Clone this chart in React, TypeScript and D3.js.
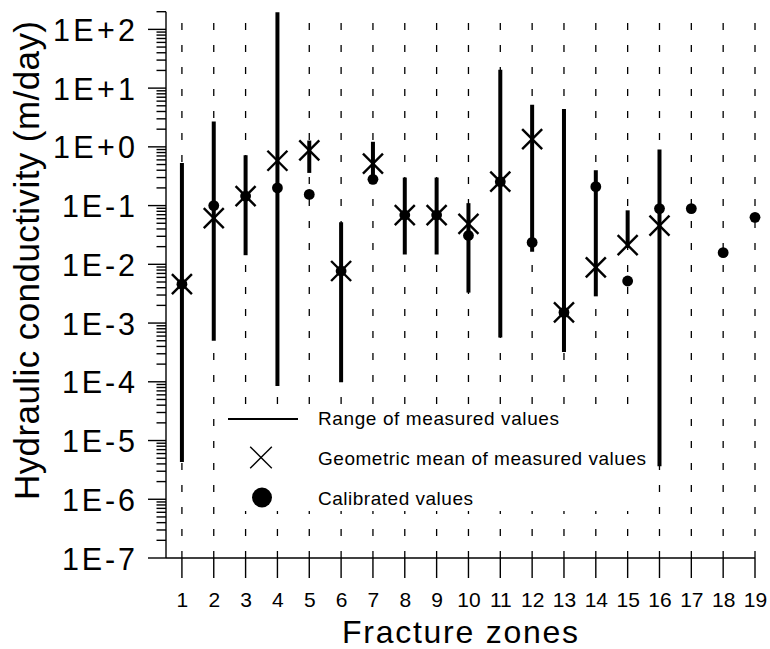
import React from "react";
import * as d3 from "d3";

// fracture zone labels on the x axis
const zones = ["1", "2", "3", "4", "5", "6", "7", "8", "9", "10", "11", "12", "13", "14", "15", "16", "17", "18", "19"];

// range of measured values (m/day), null where no measurements
const rangeLow = [4.3e-6, 5.0e-4, 0.0143, 8.5e-5, 0.36, 9.8e-5, 0.3, 0.0147, 0.0147, 0.0033, 5.7e-4, 0.0164, 3.2e-4, 2.85e-3, 0.019, 3.66e-6, null, null, null];
const rangeHigh = [0.53, 2.7, 0.72, 196, 1.28, 0.052, 1.22, 0.30, 0.30, 0.11, 20.5, 5.2, 4.4, 0.40, 0.083, 0.90, null, null, null];

// geometric mean of measured values
const geoMean = [4.6e-3, 0.061, 0.145, 0.58, 0.87, 0.0077, 0.52, 0.069, 0.069, 0.049, 0.255, 1.35, 1.52e-3, 8.9e-3, 0.0212, 0.0455, null, null, null];

// calibrated values
const calibrated = [4.6e-3, 0.100, 0.145, 0.20, 0.155, 0.0077, 0.28, 0.069, 0.069, 0.031, 0.255, 0.0236, 1.52e-3, 0.21, 5.2e-3, 0.089, 0.089, 0.0158, 0.063];

const yTickLabels = ["1E-7", "1E-6", "1E-5", "1E-4", "1E-3", "1E-2", "1E-1", "1E+0", "1E+1", "1E+2"];

const legendItems = ["Range of measured values", "Geometric mean of measured values", "Calibrated values"];

const FONT = "'Liberation Sans', Arial, Helvetica, sans-serif";

export default function App() {
  const width = 770;
  const height = 649;
  const left = 166;
  const right = 755;
  const bottom = 558;
  const top = 11.7;

  const x = d3.scaleLinear([-0.5, zones.length - 1], [left, right]);
  const y = d3.scaleLog([1e-7, 2e2], [bottom, top]);

  const ticks = y.ticks();
  const isMajor = (t: number) => Math.abs(Math.log10(t) - Math.round(Math.log10(t))) < 1e-9;

  const cross = (cx: number, cy: number, h: number, sw: number, key?: string) => (
    <g key={key} stroke="#000" strokeWidth={sw}>
      <line x1={cx - h} y1={cy - h} x2={cx + h} y2={cy + h} />
      <line x1={cx - h} y1={cy + h} x2={cx + h} y2={cy - h} />
    </g>
  );

  return (
    <svg width={width} height={height} style={{ position: "absolute", left: 0, top: 0, background: "#fff" }} fontFamily={FONT}>
      {/* dashed zone guides */}
      <g stroke="#000" strokeWidth={1.3} strokeDasharray="7 15">
        {zones.map((z, i) => (
          <line key={z} x1={x(i)} x2={x(i)} y1={23} y2={bottom} />
        ))}
      </g>

      {/* legend box hides the guides behind it */}
      <rect x={222} y={406} width={428} height={105} fill="#fff" />

      {/* axes */}
      <g stroke="#000" strokeWidth={1.4}>
        <line x1={left} x2={left} y1={y(2e2)} y2={bottom} />
        <line x1={left} x2={right} y1={bottom} y2={bottom} />
        {ticks.map((t, i) => (
          <line key={i} x1={left - (isMajor(t) ? 18 : 9.5)} x2={left} y1={y(t)} y2={y(t)} />
        ))}
        {zones.map((z, i) => (
          <line key={z} x1={x(i)} x2={x(i)} y1={bottom} y2={bottom + 20} />
        ))}
      </g>

      {/* y tick labels */}
      <g fontSize={30.5} textAnchor="end">
        {yTickLabels.map((lab, i) => (
          <text key={lab} x={135} y={y(Math.pow(10, i - 7)) + 11.5} textLength={lab.includes("+") ? 82 : 73} lengthAdjust="spacing">
            {lab}
          </text>
        ))}
      </g>

      {/* x tick labels */}
      <g fontSize={21} textAnchor="middle">
        {zones.map((z, i) => (
          <text key={z} x={x(i) + 0.5} y={607}>{z}</text>
        ))}
      </g>

      {/* axis titles */}
      <text transform="translate(38.5,260.5) rotate(-90)" fontSize={35} textAnchor="middle" textLength={479} lengthAdjust="spacing">
        Hydraulic conductivity (m/day)
      </text>
      <text x={460} y={643} fontSize={32} textAnchor="middle" textLength={236} lengthAdjust="spacing">
        Fracture zones
      </text>

      {/* range bars */}
      <g stroke="#000" strokeWidth={4}>
        {zones.map((z, i) =>
          rangeLow[i] != null && rangeHigh[i] != null ? (
            <line key={z} x1={x(i)} x2={x(i)} y1={y(rangeHigh[i] as number)} y2={y(rangeLow[i] as number)} />
          ) : null
        )}
      </g>

      {/* calibrated values */}
      <g fill="#000">
        {zones.map((z, i) =>
          calibrated[i] != null ? <circle key={z} cx={x(i)} cy={y(calibrated[i] as number)} r={5.4} /> : null
        )}
      </g>

      {/* geometric means */}
      <g>
        {zones.map((z, i) => (geoMean[i] != null ? cross(x(i), y(geoMean[i] as number), 10, 2.4, z) : null))}
      </g>

      {/* legend */}
      <line x1={228} x2={298} y1={419} y2={419} stroke="#000" strokeWidth={2} />
      {cross(261, 457.5, 10.8, 1.4)}
      <circle cx={262} cy={497.5} r={10} fill="#000" />
      <g fontSize={19}>
        <text x={318} y={425} textLength={241} lengthAdjust="spacing">{legendItems[0]}</text>
        <text x={318} y={465} textLength={328} lengthAdjust="spacing">{legendItems[1]}</text>
        <text x={318} y={505} textLength={155} lengthAdjust="spacing">{legendItems[2]}</text>
      </g>
    </svg>
  );
}
